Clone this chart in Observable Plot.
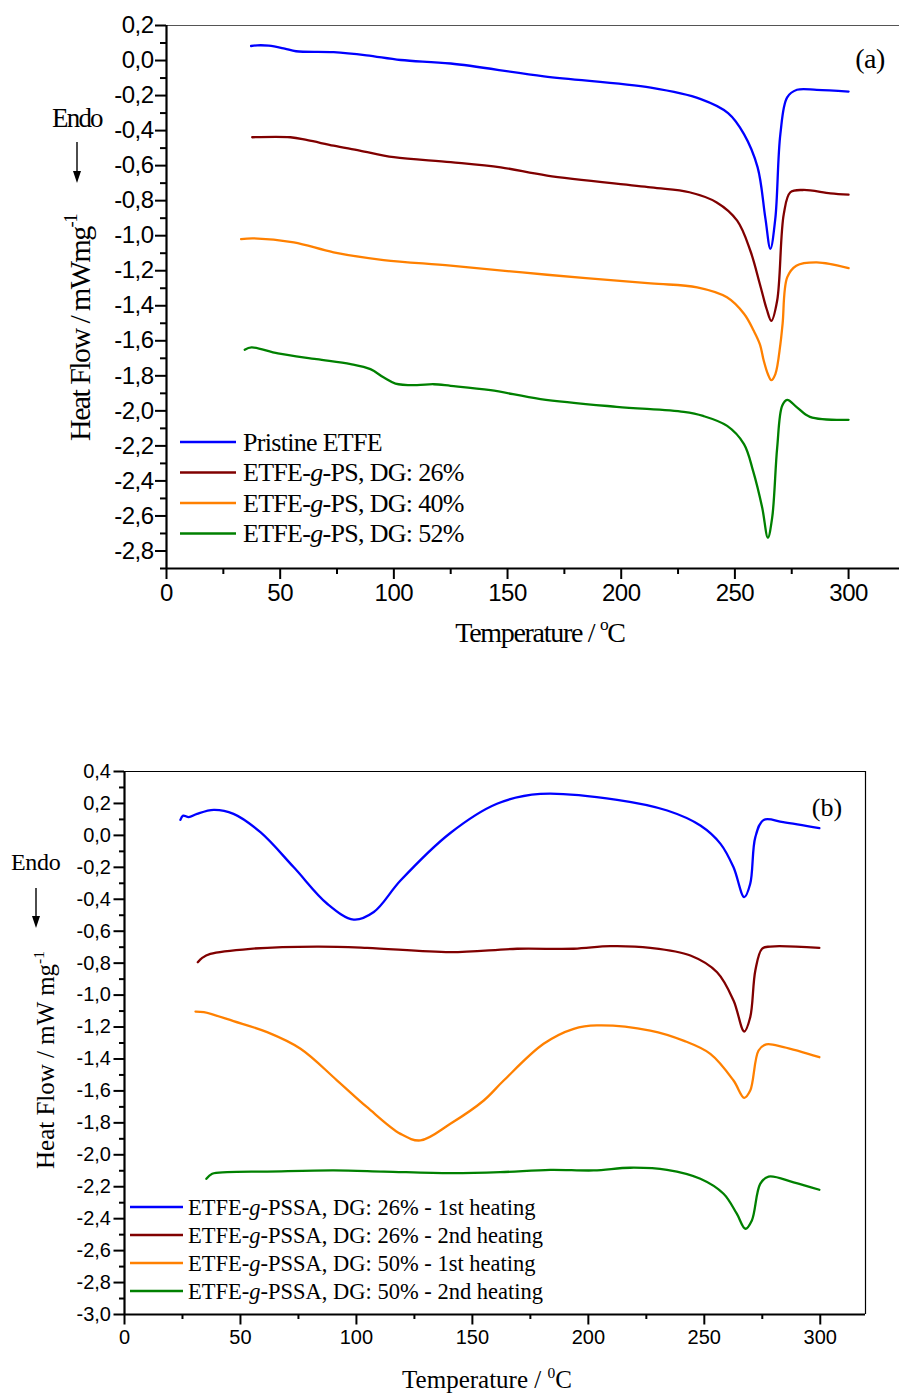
<!DOCTYPE html>
<html><head><meta charset="utf-8">
<script src="https://cdn.jsdelivr.net/npm/d3@7"></script>
<script src="https://cdn.jsdelivr.net/npm/@observablehq/plot@0.6"></script>
<style>
body{margin:0;background:#fff;}
#wrap{position:relative;width:899px;height:1398px;overflow:hidden;background:#fff;}
#a{position:absolute;left:0;top:0;}
#b{position:absolute;left:0;top:740px;}
#a g[aria-label="y-axis tick label"] text, #a g[aria-label="x-axis tick label"] text{letter-spacing:-0.5px;}
</style></head><body><div id="wrap"><div id="a"></div><div id="b"></div></div>
<script>
// ---------- Panel (a) data ----------
const namesA = ["Pristine ETFE", "ETFE-g-PS, DG: 26%", "ETFE-g-PS, DG: 40%", "ETFE-g-PS, DG: 52%"];
const colors = ["#0000ff", "#800000", "#ff8000", "#008000"];

const tempA1 = [37.2, 40, 45, 52, 57, 73.5, 88, 103, 125, 166, 213, 235, 247, 254, 260, 263.4, 265.6, 267.8, 270, 273, 277.3, 286, 300];
const flowA1 = [0.083, 0.087, 0.085, 0.068, 0.053, 0.048, 0.03, 0.003, -0.017, -0.09, -0.155, -0.22, -0.30, -0.42, -0.61, -0.90, -1.075, -0.90, -0.42, -0.21, -0.167, -0.167, -0.177];

const tempA2 = [37.7, 54.5, 62, 73.5, 85, 100, 125, 147, 167.4, 213, 230, 242, 251, 256.8, 261, 264, 266, 268.6, 271.5, 274.4, 280, 292, 300];
const flowA2 = [-0.438, -0.438, -0.455, -0.486, -0.514, -0.552, -0.58, -0.61, -0.657, -0.724, -0.752, -0.81, -0.914, -1.086, -1.277, -1.42, -1.486, -1.37, -0.877, -0.752, -0.739, -0.758, -0.766];

const tempA3 = [32.8, 38.4, 56, 73.5, 95.5, 125, 167.4, 213, 233.4, 246.5, 254, 258.3, 261, 262.7, 264.5, 266, 267.8, 270, 271, 273, 277, 286, 300];
const flowA3 = [-1.019, -1.015, -1.038, -1.095, -1.139, -1.171, -1.223, -1.272, -1.295, -1.352, -1.446, -1.543, -1.62, -1.714, -1.79, -1.825, -1.79, -1.62, -1.50, -1.238, -1.171, -1.152, -1.185];

const tempA4 = [34.4, 37.4, 49, 66, 81, 89.7, 95.6, 100.7, 110, 117.5, 125, 142.5, 164.5, 198, 227.5, 236, 246.6, 254, 258, 262, 264.5, 266.4, 268.6, 270.8, 273, 277.3, 283, 300];
const flowA4 = [-1.651, -1.638, -1.672, -1.705, -1.733, -1.762, -1.81, -1.844, -1.853, -1.848, -1.857, -1.882, -1.933, -1.977, -2.006, -2.029, -2.086, -2.19, -2.343, -2.552, -2.724, -2.61, -2.21, -1.971, -1.937, -1.98, -2.034, -2.051];

// ---------- Panel (b) data ----------
const namesB = ["ETFE-g-PSSA, DG: 26% - 1st heating", "ETFE-g-PSSA, DG: 26% - 2nd heating", "ETFE-g-PSSA, DG: 50% - 1st heating", "ETFE-g-PSSA, DG: 50% - 2nd heating"];

const tempB1 = [24.1, 25.3, 27.7, 31.3, 38.5, 47, 58.6, 73, 87.4, 98.8, 107.5, 119, 140.5, 160.6, 179.3, 212.4, 234, 248.3, 257, 262.6, 267.2, 269.8, 272, 275.6, 284, 299.6];
const flowB1 = [0.097, 0.124, 0.114, 0.135, 0.16, 0.135, 0.02, -0.2, -0.428, -0.527, -0.48, -0.283, 0.015, 0.198, 0.26, 0.223, 0.156, 0.062, -0.053, -0.2, -0.387, -0.303, -0.011, 0.097, 0.083, 0.045];

const tempB2 = [31.6, 33.5, 37, 54.3, 83, 104.6, 140.5, 169.3, 193.7, 209.5, 226.7, 244, 255.5, 262.6, 267.2, 269.8, 272, 274.9, 278.4, 299.6];
const flowB2 = [-0.794, -0.767, -0.742, -0.71, -0.696, -0.704, -0.731, -0.71, -0.71, -0.694, -0.704, -0.752, -0.857, -1.034, -1.228, -1.139, -0.846, -0.71, -0.696, -0.704];

const tempB3 = [30.6, 34.2, 47, 61.5, 75.9, 91.7, 104.6, 119, 127.6, 140.5, 154.9, 163.5, 180.7, 193.7, 203.7, 226.7, 241, 252.6, 262.6, 267.2, 269.8, 273.4, 276.7, 284.2, 299.6];
const flowB3 = [-1.103, -1.107, -1.163, -1.232, -1.336, -1.535, -1.702, -1.869, -1.91, -1.806, -1.66, -1.535, -1.305, -1.211, -1.19, -1.222, -1.285, -1.368, -1.535, -1.643, -1.598, -1.347, -1.309, -1.326, -1.389];

const tempB4 = [35.3, 37.8, 44.3, 61.5, 90.2, 111.8, 140.5, 162, 183.6, 202.3, 218.1, 233.9, 248.3, 258.3, 264, 267.7, 270.5, 274.1, 277.7, 288.5, 299.6];
const flowB4 = [-2.15, -2.119, -2.109, -2.105, -2.098, -2.105, -2.115, -2.109, -2.094, -2.098, -2.081, -2.094, -2.15, -2.244, -2.369, -2.463, -2.411, -2.182, -2.136, -2.172, -2.219];

// ---------- ticks ----------
const xMajor = [0, 50, 100, 150, 200, 250, 300];
const xMinor = [25, 75, 125, 175, 225, 275];
const yMajorA = [0.2, 0, -0.2, -0.4, -0.6, -0.8, -1.0, -1.2, -1.4, -1.6, -1.8, -2.0, -2.2, -2.4, -2.6, -2.8];
const yMinorA = [0.1, -0.1, -0.3, -0.5, -0.7, -0.9, -1.1, -1.3, -1.5, -1.7, -1.9, -2.1, -2.3, -2.5, -2.7, -2.9];
const yMajorB = [0.4, 0.2, 0, -0.2, -0.4, -0.6, -0.8, -1.0, -1.2, -1.4, -1.6, -1.8, -2.0, -2.2, -2.4, -2.6, -2.8, -3.0];
const yMinorB = [0.3, 0.1, -0.1, -0.3, -0.5, -0.7, -0.9, -1.1, -1.3, -1.5, -1.7, -1.9, -2.1, -2.3, -2.5, -2.7, -2.9];

const rowsA = [[tempA1, flowA1], [tempA2, flowA2], [tempA3, flowA3], [tempA4, flowA4]]
  .flatMap(([T, V], k) => T.map((t, i) => ({series: namesA[k], T: t, V: V[i]})));
const rowsB = [[tempB1, flowB1], [tempB2, flowB2], [tempB3, flowB3], [tempB4, flowB4]]
  .flatMap(([T, V], k) => T.map((t, i) => ({series: namesB[k], T: t, V: V[i]})));

const fmt = d => d.toFixed(1).replace(".", ",");
const SERIF = "'Liberation Serif', 'Times New Roman', serif";
const SANS = "'Liberation Sans', Arial, sans-serif";

function makePanel(o) {
  const marks = [
    Plot.axisY({ticks: o.yMajor, tickSize: o.tick, tickPadding: o.pad, tickFormat: fmt, label: null, strokeWidth: 2, fontSize: o.tickFont}),
    Plot.axisY({ticks: o.yMinor, tickSize: o.tickMinor, tickFormat: () => "", label: null, strokeWidth: 2}),
    Plot.axisX({ticks: xMajor, tickSize: o.tick, tickPadding: o.padX, tickFormat: d => String(d), label: null, strokeWidth: 2, fontSize: o.tickFont}),
    Plot.axisX({ticks: xMinor, tickSize: o.tickMinor, tickFormat: () => "", label: null, strokeWidth: 2}),
    Plot.ruleY([o.yDomain[1]], {stroke: o.topColor, strokeWidth: 1.2}),
    Plot.ruleX([o.xDomain[0]], {strokeWidth: 2.2}),
    Plot.ruleY([o.yDomain[0]], {strokeWidth: 2.2}),
  ];
  if (o.rightLine) marks.push(Plot.ruleX([o.xDomain[1]], {strokeWidth: 1.2}));
  marks.push(Plot.line(o.rows, {x: "T", y: "V", z: "series", stroke: "series", strokeWidth: 2.3, curve: "catmull-rom"}));
  return Plot.plot({
    width: 899, height: o.height,
    marginLeft: o.ml, marginRight: o.mr, marginTop: o.mt, marginBottom: o.mb,
    style: {fontFamily: SANS, fontSize: o.tickFont + "px", color: "#000", background: "#fff", overflow: "visible"},
    x: {domain: o.xDomain},
    y: {domain: o.yDomain},
    color: {domain: o.names, range: colors},
    marks
  });
}

function addText(svg, x, y, size, parts, opts = {}) {
  const t = svg.append("text")
    .attr("font-family", SERIF).attr("font-size", size).attr("fill", "#000")
    .attr("text-anchor", opts.anchor || "start")
    .attr("letter-spacing", opts.ls || 0)
    .attr("transform", opts.rotate ? `translate(${x},${y}) rotate(-90)` : `translate(${x},${y})`);
  for (const p of parts) {
    const s = t.append("tspan").text(p.t);
    if (p.i) s.attr("font-style", "italic");
    if (p.sup) s.attr("font-size", size * 0.62).attr("dy", -size * 0.42);
    if (p.after) s.attr("dy", size * 0.42);
  }
  return t;
}
function legendParts(name) {
  const [pre, post] = name.split("-g-");
  return [{t: pre + "-"}, {t: "g", i: true}, {t: "-" + post}];
}
function arrow(svg, x, y1, y2) {
  svg.append("line").attr("x1", x).attr("x2", x).attr("y1", y1).attr("y2", y2 - 10).attr("stroke", "#000").attr("stroke-width", 1.4);
  svg.append("path").attr("d", `M${x - 4},${y2 - 12}L${x + 4},${y2 - 12}L${x},${y2}Z`).attr("fill", "#000");
}

// ---------- Panel (a) ----------
const plotA = makePanel({
  rows: rowsA, names: namesA, height: 660, ml: 166, mr: 0, mt: 25, mb: 92,
  xDomain: [0, 322.4], yDomain: [-2.9, 0.2], yMajor: yMajorA, yMinor: yMinorA,
  tick: 11, tickMinor: 6, pad: 2, padX: 4, tickFont: 24, topColor: "#555", rightLine: false
});
document.getElementById("a").appendChild(plotA);
{
  const svg = d3.select(plotA);
  addText(svg, 52, 127, 27, [{t: "Endo"}], {ls: -1.8});
  arrow(svg, 77, 142, 183);
  addText(svg, 90, 328, 30, [{t: "Heat Flow / mWmg"}, {t: "-1", sup: true}], {rotate: true, anchor: "middle", ls: -1.6});
  addText(svg, 540, 642, 28, [{t: "Temperature / "}, {t: "o", sup: true}, {t: "C", after: true}], {anchor: "middle", ls: -1.3});
  addText(svg, 870, 68, 28, [{t: "(a)"}], {anchor: "middle", ls: -0.5});
  namesA.forEach((n, k) => {
    const y = 442 + k * 30.5;
    svg.append("line").attr("x1", 180).attr("x2", 236).attr("y1", y).attr("y2", y).attr("stroke", colors[k]).attr("stroke-width", 2.5);
    addText(svg, 243, y + 8.5, 26, k === 0 ? [{t: n}] : legendParts(n), {ls: -0.7});
  });
}

// ---------- Panel (b) ----------
const plotB = makePanel({
  rows: rowsB, names: namesB, height: 658, ml: 124, mr: 34, mt: 31, mb: 84,
  xDomain: [0, 319.5], yDomain: [-3.0, 0.4], yMajor: yMajorB, yMinor: yMinorB,
  tick: 10.5, tickMinor: 5, pad: 3, padX: 5, tickFont: 20, topColor: "#000", rightLine: true
});
document.getElementById("b").appendChild(plotB);
{
  const svg = d3.select(plotB);
  addText(svg, 11, 130, 24, [{t: "Endo"}], {ls: -0.3});
  arrow(svg, 36, 148, 188);
  addText(svg, 54, 320, 25, [{t: "Heat Flow / mW mg"}, {t: "-1", sup: true}], {rotate: true, anchor: "middle"});
  addText(svg, 487, 648, 25, [{t: "Temperature / "}, {t: "0", sup: true}, {t: "C", after: true}], {anchor: "middle"});
  addText(svg, 827, 76, 26, [{t: "(b)"}], {anchor: "middle"});
  namesB.forEach((n, k) => {
    const y = 467 + k * 28;
    svg.append("line").attr("x1", 130).attr("x2", 183).attr("y1", y).attr("y2", y).attr("stroke", colors[k]).attr("stroke-width", 2.5);
    addText(svg, 188, y + 8, 22.5, legendParts(n));
  });
}
</script>
</body></html>
